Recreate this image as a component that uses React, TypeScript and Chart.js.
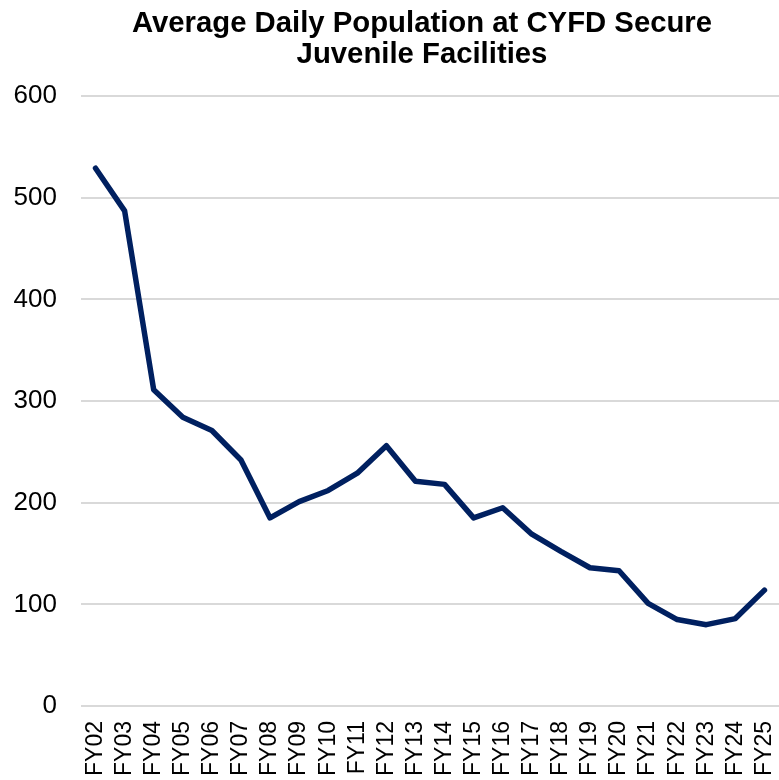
import React, { useEffect, useRef } from "react";
import { Chart, registerables } from "chart.js";

Chart.register(...registerables);

const TITLE_LINES = ["Average Daily Population at CYFD Secure", "Juvenile Facilities"];
const CATEGORIES = [
  "FY02", "FY03", "FY04", "FY05", "FY06", "FY07", "FY08", "FY09", "FY10", "FY11", "FY12", "FY13",
  "FY14", "FY15", "FY16", "FY17", "FY18", "FY19", "FY20", "FY21", "FY22", "FY23", "FY24", "FY25",
];
const POPULATION = [
  529, 487, 311, 284, 271, 242, 185, 201, 212, 229, 256, 221,
  218, 185, 195, 169, 152, 136, 133, 101, 85, 80, 86, 114,
];
const Y_MIN = 0;
const Y_MAX = 600;
const Y_STEP = 100;

const FONT = "'Liberation Sans', Arial, Helvetica, sans-serif";

const titlePlugin = {
  id: "customTitle",
  afterDraw(chart: any) {
    const ctx = chart.ctx;
    ctx.save();
    ctx.fillStyle = "#000000";
    ctx.font = `bold 29.3px ${FONT}`;
    ctx.textAlign = "center";
    ctx.textBaseline = "alphabetic";
    const cx = 422;
    ctx.fillText(TITLE_LINES[0], cx, 31.5);
    ctx.fillText(TITLE_LINES[1], cx, 63);
    ctx.restore();
  },
};

export default function App() {
  const canvasRef = useRef<HTMLCanvasElement | null>(null);

  useEffect(() => {
    if (!canvasRef.current) return;
    const chart = new Chart(canvasRef.current, {
      type: "line",
      data: {
        labels: CATEGORIES,
        datasets: [
          {
            label: "Average Daily Population",
            data: POPULATION,
            borderColor: "#002060",
            backgroundColor: "#002060",
            borderWidth: 5.5,
            pointRadius: 0,
            tension: 0,
            borderJoinStyle: "round",
            borderCapStyle: "round",
          },
        ],
      },
      options: {
        animation: false,
        responsive: true,
        maintainAspectRatio: false,
        layout: { padding: { top: 96, right: 0, left: 0, bottom: 0 } },
        plugins: {
          legend: { display: false },
          title: { display: false },
          tooltip: { enabled: false },
        },
        scales: {
          x: {
            offset: true,
            grid: { display: false, drawTicks: false },
            border: { display: false },
            ticks: {
              autoSkip: false,
              minRotation: 90,
              maxRotation: 90,
              padding: 15,
              color: "#000000",
              font: { family: FONT, size: 23 },
            },
            afterFit(scale: any) {
              scale.height = 74;
              scale.paddingLeft = 0;
              scale.paddingRight = 0;
            },
          },
          y: {
            min: Y_MIN,
            max: Y_MAX,
            ticks: {
              stepSize: Y_STEP,
              padding: 24,
              color: "#000000",
              font: { family: FONT, size: 26 },
            },
            grid: { color: "#d9d9d9", lineWidth: 2, drawTicks: false },
            border: { display: false },
            afterFit(scale: any) {
              scale.width = 81;
            },
          },
        },
      },
      plugins: [titlePlugin],
    });
    return () => chart.destroy();
  }, []);

  return (
    <div style={{ position: "fixed", left: 0, top: 0, width: 779, height: 780, background: "#ffffff" }}>
      <canvas ref={canvasRef} />
    </div>
  );
}
